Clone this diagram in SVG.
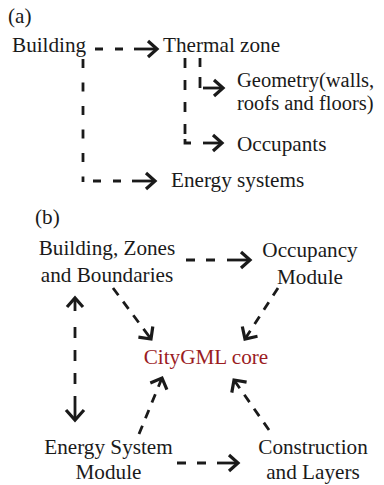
<svg xmlns="http://www.w3.org/2000/svg" width="384" height="485" viewBox="0 0 384 485">
<style>
.t{font-family:"Liberation Serif","Times New Roman",serif;font-size:21.2px;fill:#1a1a1a}
.g{font-size:20.5px}
.m{text-anchor:middle}
.core{fill:#9b1c1f}
.d{fill:none;stroke:#1a1a1a;stroke-width:2.8}
.s{fill:none;stroke:#1a1a1a;stroke-width:2.8}
.h{fill:none;stroke:#1a1a1a;stroke-width:3.2;stroke-linejoin:miter;stroke-linecap:butt}
</style>
<rect width="384" height="485" fill="#ffffff"/>
<g id="label-a"><text class="t" x="8" y="23">(a)</text></g>
<g id="building"><text class="t" x="12" y="52">Building</text></g>
<g id="thermal-zone"><text class="t" x="163" y="52">Thermal zone</text></g>
<g id="geometry"><text class="t g" x="237" y="87">Geometry(walls,</text><text class="t g" x="237" y="110">roofs and floors)</text></g>
<g id="occupants"><text class="t" x="237" y="151">Occupants</text></g>
<g id="energy-systems"><text class="t" x="171" y="187">Energy systems</text></g>
<g id="label-b"><text class="t" x="35" y="224">(b)</text></g>
<g id="building-zones"><text class="t m" x="107" y="255">Building, Zones</text><text class="t m" x="107" y="282">and Boundaries</text></g>
<g id="occupancy-module"><text class="t m" x="310" y="257">Occupancy</text><text class="t m" x="310" y="284">Module</text></g>
<g id="citygml-core"><text class="t m core" x="206" y="364">CityGML core</text></g>
<g id="energy-system-module"><text class="t m" x="108.5" y="454">Energy System</text><text class="t m" x="108.5" y="479">Module</text></g>
<g id="construction-layers"><text class="t m" x="313" y="454">Construction</text><text class="t m" x="313" y="479">and Layers</text></g>
<g id="connectors">
<!-- (a) Building -> Thermal zone -->
<path class="d" d="M95,49 H124" stroke-dasharray="8 12"/>
<path class="s" d="M134,49 H156"/>
<path class="h" d="M148,41 L157,49 L148,57"/>
<!-- Building -> Energy systems -->
<path class="d" d="M83,59 V182" stroke-dasharray="9 14.5"/>
<path class="d" d="M93,181 H122" stroke-dasharray="8 12"/>
<path class="s" d="M132,181 H154"/>
<path class="h" d="M146,173 L155,181 L146,189"/>
<!-- Thermal zone -> Occupants -->
<path class="d" d="M185,58 V134" stroke-dasharray="10 12"/>
<path class="s" d="M185,139 V143 H191"/>
<path class="s" d="M203,143 H221"/>
<path class="h" d="M213,135 L222,143 L213,151"/>
<!-- Thermal zone -> Geometry -->
<path class="d" d="M200,58 V67"/>
<path class="s" d="M200,77 V88"/>
<path class="s" d="M203,88 H222"/>
<path class="h" d="M214,80 L223,88 L214,96"/>
<!-- (b) Building, Zones -> Occupancy -->
<path class="d" d="M186,260 H217" stroke-dasharray="9 11"/>
<path class="s" d="M227,260 H249"/>
<path class="h" d="M241,252 L250,260 L241,268"/>
<!-- Building, Zones <-> Energy System -->
<path class="h" d="M67,307 L75,298 L83,307"/>
<path class="s" d="M75,299 V311"/>
<path class="d" d="M75,327 V385" stroke-dasharray="11 12"/>
<path class="s" d="M75,396 V419"/>
<path class="h" d="M66,410 L75,420 L84,410"/>
<!-- Building, Zones -> CityGML core -->
<path class="d" d="M113,288 L151,339" stroke-dasharray="9 8 9 8 9 8 14 0"/>
<path class="h" d="M138.4,337.2 L151,339 L152.8,326.4"/>
<!-- Occupancy -> CityGML core -->
<path class="d" d="M278,288 L245,339" stroke-dasharray="9 8 9 8 9 8 14 0"/>
<path class="h" d="M242.3,326.5 L245,339 L257.5,336.3"/>
<!-- Energy System -> CityGML core -->
<path class="d" d="M139,434 L162,378" stroke-dasharray="9 8 9 8 9 8 14 0"/>
<path class="h" d="M166.9,389.7 L162,378 L150.3,382.9"/>
<!-- Construction -> CityGML core -->
<path class="d" d="M269,430 L234,380" stroke-dasharray="9 8 9 8 9 8 14 0"/>
<path class="h" d="M246.6,382.2 L234,380 L231.8,392.6"/>
<!-- Energy System -> Construction -->
<path class="d" d="M177,463 H207" stroke-dasharray="9 11"/>
<path class="s" d="M217,463 H237"/>
<path class="h" d="M229,455 L238,463 L229,471"/>
</g>
</svg>
